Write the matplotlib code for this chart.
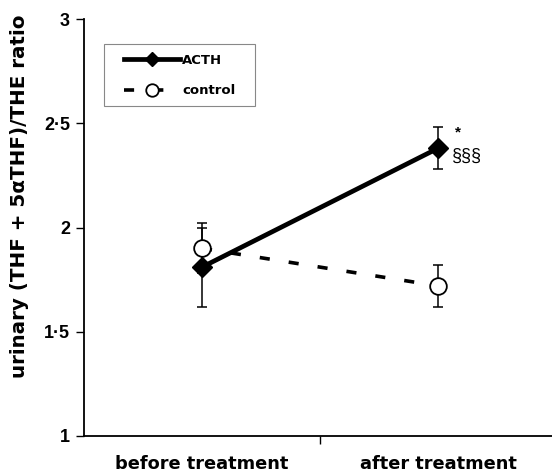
import matplotlib
matplotlib.use("Agg")
import matplotlib.pyplot as plt
from matplotlib.patches import Rectangle

plt.rcParams['font.family'] = ['Liberation Sans', 'DejaVu Sans']

categories = ["before treatment", "after treatment"]
acth = [1.81, 2.38]
acth_err = [0.19, 0.10]
control = [1.90, 1.72]
control_err = [0.12, 0.10]
yticks = [1, 1.5, 2, 2.5, 3]
ytick_labels = ["1", "1·5", "2", "2·5", "3"]

W, H = 552, 476
fig = plt.figure(figsize=(W/100, H/100), dpi=100)
ax = fig.add_axes([84/W, 1-436/H, 468/W, (436-19)/H])

x = [0, 1]
ax.errorbar(x, control, yerr=control_err, fmt='none', ecolor='black', elinewidth=1.1, capsize=3.7, capthick=1.1, zorder=2)
ax.errorbar(x, acth, yerr=acth_err, fmt='none', ecolor='black', elinewidth=1.1, capsize=3.7, capthick=1.1, zorder=2)
lc, = ax.plot(x, control, color='black', lw=2.6, dashes=(2.8, 5.3), marker='o', ms=12,
              mfc='white', mec='black', mew=1.3, label='control', zorder=3)
la, = ax.plot(x, acth, color='black', lw=3.4, marker='D', ms=10, mfc='black', mec='black',
              label='ACTH', zorder=4)

ax.text(1.085, 2.455, "*", fontsize=11, fontweight='bold', ha='center', va='center')
ax.text(1.06, 2.34, "§§§", fontsize=13, ha='left', va='center')

ax.set_xlim(-0.5, 1.483)
ax.set_ylim(1, 3)
ax.set_yticks(yticks)
ax.set_yticklabels(ytick_labels, fontsize=13, fontweight='bold')
ax.set_xticks([0.5])
ax.set_xticklabels([""])
for xi, c in zip(x, categories):
    ax.text(xi, -0.045, c, transform=ax.get_xaxis_transform(), ha='center', va='top',
            fontsize=12.8, fontweight='bold', family='DejaVu Sans')
ax.tick_params(axis='both', direction='out', length=6, width=1, pad=4)
ax.spines['top'].set_visible(False)
ax.spines['right'].set_visible(False)
ax.spines['left'].set_linewidth(1.3)
ax.spines['bottom'].set_linewidth(1.3)

fig.text(20/W, 1-196/H, "urinary (THF + 5αTHF)/THE ratio", rotation=90,
         ha='center', va='center', fontsize=14.3, fontweight='bold', family='DejaVu Sans')

# legend frame
frame = Rectangle((104/W, 1-106/H), (255-104)/W, (106-44)/H,
                  transform=fig.transFigure, fill=True, facecolor='white',
                  edgecolor='#888888', linewidth=0.8, zorder=5, clip_on=False)
ax.add_patch(frame)
leg = ax.legend(handles=[la, lc], loc='upper left', bbox_to_anchor=(124/W, 1-54/H),
                bbox_transform=fig.transFigure, borderaxespad=0, borderpad=0,
                frameon=False, handlelength=4.25, handletextpad=0.15,
                markerscale=0.75, prop={'weight': 'bold', 'size': 9.5, 'family': 'DejaVu Sans'},
                labelspacing=1.3)
leg.set_zorder(6)

fig.savefig("out.png", dpi=100)
